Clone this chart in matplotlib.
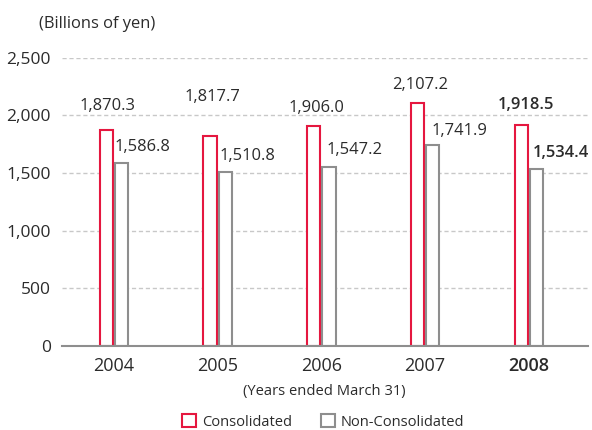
import matplotlib
matplotlib.use("Agg")
import matplotlib.pyplot as plt
from matplotlib.patches import Patch
import numpy as np

years = ["2004", "2005", "2006", "2007", "2008"]
consolidated = [1870.3, 1817.7, 1906.0, 2107.2, 1918.5]
non_consolidated = [1586.8, 1510.8, 1547.2, 1741.9, 1534.4]
yticks = [0, 500, 1000, 1500, 2000, 2500]

# label offsets in pixels (style/layout only)
cons_dx = [1, 2, 3, 3, 5]
cons_dy = [24, 39, 18, 18, 20]
nonc_dx = [0, 1, 4, 5, 3]
nonc_dy = [16, 16, 17, 14, 16]

RED = "#E5173F"
GRAY = "#8E8E8E"
TXT = "#2B2B2B"

plt.rcParams['font.family'] = ['Open Sans', 'DejaVu Sans']

fig = plt.figure(figsize=(5.92, 4.30), dpi=100)
ax = fig.add_axes([62/592, 1-346/430, 526/592, (346-57.5)/430])

x = np.arange(len(years))
w = 0.128
off = 0.073
ax.bar(x - off, consolidated, w, facecolor="white", edgecolor=RED, linewidth=1.5, zorder=3)
ax.bar(x + off, non_consolidated, w, facecolor="white", edgecolor=GRAY, linewidth=1.5, zorder=3)

for i in range(len(years)):
    bold = 600 if i == len(years) - 1 else "normal"
    ax.annotate(f"{consolidated[i]:,.1f}", xy=(x[i] - off, consolidated[i]),
                xytext=(cons_dx[i], cons_dy[i]), textcoords="offset pixels",
                ha="center", va="center", fontsize=11.9, color=TXT, fontweight=bold,
                annotation_clip=False)
    ax.annotate(f"{non_consolidated[i]:,.1f}", xy=(x[i] + off - w/2, non_consolidated[i]),
                xytext=(nonc_dx[i], nonc_dy[i]), textcoords="offset pixels",
                ha="left", va="center", fontsize=11.9, color=TXT, fontweight=bold,
                annotation_clip=False)

ax.set_xlim(-0.5, 4.57)
ax.set_ylim(0, 2500)
ax.set_yticks(yticks)
ax.set_yticklabels([f"{v:,}" for v in yticks], fontsize=12.5, color=TXT)
ax.set_xticks(x)
ax.set_xticklabels(years, fontsize=13, color=TXT)
ax.get_xticklabels()[-1].set_fontweight(600)
ax.tick_params(axis="both", length=0)
ax.tick_params(axis="y", pad=8)
ax.tick_params(axis="x", pad=8)

for s in ["top", "right", "left"]:
    ax.spines[s].set_visible(False)
ax.spines["bottom"].set_color(GRAY)
ax.spines["bottom"].set_linewidth(1.5)
ax.spines["bottom"].set_zorder(4)

ax.yaxis.grid(True, linestyle=(0, (3, 2)), color="#C8C8C8", linewidth=1)
ax.set_axisbelow(True)

fig.text(39/592, 1-24/430, "(Billions of yen)", fontsize=11.9, color=TXT, ha="left", va="center")
fig.text(324/592, 1-392/430, "(Years ended March 31)", fontsize=10.6, color=TXT, ha="center", va="center")

handles = [Patch(facecolor="white", edgecolor=RED, linewidth=1.5, label="Consolidated"),
           Patch(facecolor="white", edgecolor=GRAY, linewidth=1.5, label="Non-Consolidated")]
fig.legend(handles=handles, loc="center", bbox_to_anchor=(323/592, 1-422/430), ncol=2,
           frameon=False, fontsize=10.5, handlelength=0.95, handleheight=0.95,
           handletextpad=0.4, columnspacing=2.0, labelcolor=TXT)

fig.savefig("out.png", dpi=100)
